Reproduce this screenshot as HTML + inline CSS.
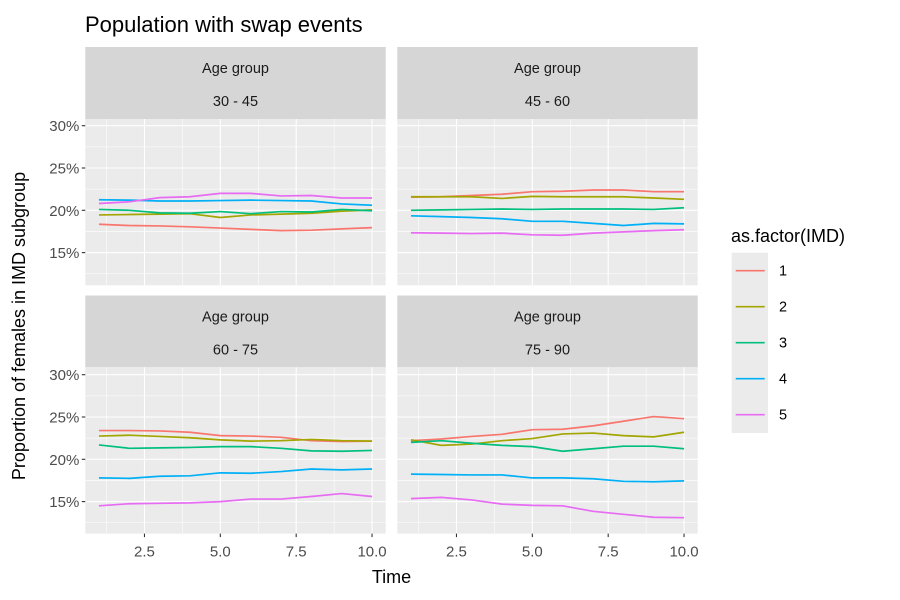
<!DOCTYPE html>
<html><head><meta charset="utf-8"><style>body{margin:0;background:#fff}svg{display:block;font-family:"Liberation Sans",Arial,sans-serif}</style></head>
<body>
<svg id="c" width="900" height="600" viewBox="0 0 900 600"></svg>
<script>
const xValues=[1,2,3,4,5,6,7,8,9,10];
const yTicks=[15,20,25,30];
const yTickLabels=["15%","20%","25%","30%"];
const xTicks=[2.5,5,7.5,10];
const xTickLabels=["2.5","5.0","7.5","10.0"];
const groupLabels=["1","2","3","4","5"];
const panelTitles=["30 - 45","45 - 60","60 - 75","75 - 90"];
const colors=["#F8766D","#A3A500","#00BF7D","#00B0F6","#E76BF3"];
// panel 30-45
const p1s1=[18.35,18.2,18.15,18.05,17.9,17.75,17.6,17.65,17.8,17.95];
const p1s2=[19.45,19.5,19.55,19.6,19.15,19.45,19.55,19.65,19.9,20.05];
const p1s3=[20.1,20.0,19.7,19.65,19.85,19.6,19.85,19.8,20.1,19.95];
const p1s4=[21.25,21.2,21.1,21.1,21.15,21.2,21.15,21.1,20.75,20.6];
const p1s5=[20.8,21.0,21.5,21.6,22.0,22.0,21.7,21.75,21.45,21.45];
// panel 45-60
const p2s1=[21.55,21.6,21.75,21.9,22.2,22.25,22.4,22.4,22.2,22.2];
const p2s2=[21.6,21.6,21.6,21.4,21.65,21.6,21.6,21.6,21.45,21.3];
const p2s3=[20.0,20.05,20.1,20.15,20.1,20.15,20.15,20.15,20.1,20.3];
const p2s4=[19.35,19.25,19.15,19.0,18.7,18.7,18.45,18.2,18.45,18.4];
const p2s5=[17.35,17.3,17.25,17.3,17.1,17.05,17.3,17.45,17.6,17.7];
// panel 60-75
const p3s1=[23.4,23.4,23.35,23.2,22.8,22.75,22.6,22.2,22.1,22.15];
const p3s2=[22.75,22.85,22.7,22.55,22.3,22.15,22.2,22.35,22.2,22.15];
const p3s3=[21.7,21.3,21.35,21.4,21.5,21.5,21.3,21.0,20.95,21.05];
const p3s4=[17.8,17.75,18.0,18.05,18.4,18.35,18.55,18.85,18.75,18.85];
const p3s5=[14.5,14.75,14.8,14.85,15.0,15.3,15.3,15.6,15.95,15.6];
// panel 75-90
const p4s1=[22.2,22.4,22.7,22.95,23.5,23.55,23.95,24.5,25.05,24.8];
const p4s2=[22.3,21.65,21.8,22.2,22.45,23.0,23.1,22.8,22.65,23.2];
const p4s3=[22.0,22.2,21.9,21.65,21.5,20.95,21.25,21.55,21.55,21.25];
const p4s4=[18.25,18.2,18.15,18.15,17.8,17.8,17.7,17.4,17.35,17.45];
const p4s5=[15.35,15.5,15.2,14.7,14.55,14.5,13.85,13.5,13.15,13.1];
const panelSeries=[[p1s1,p1s2,p1s3,p1s4,p1s5],[p2s1,p2s2,p2s3,p2s4,p2s5],[p3s1,p3s2,p3s3,p3s4,p3s5],[p4s1,p4s2,p4s3,p4s4,p4s5]];

const NS="http://www.w3.org/2000/svg";
const svg=document.getElementById('c');
function mk(tag,attrs,parent,text){const e=document.createElementNS(NS,tag);for(const k in attrs)e.setAttribute(k,attrs[k]);if(text!==undefined)e.textContent=text;(parent||svg).appendChild(e);return e;}
const panelW=300.4, xMin=0.55, xMax=10.45;
const colX=[85.3,397.3];
const rowPanelTop=[119,367.3];
const rowStripTop=[47,295.5];
const yScaleK=8.46;
const y20=[210.3,459.3];
function sx(c,v){return colX[c]+(v-xMin)/(xMax-xMin)*panelW;}
function sy(r,v){return y20[r]-(v-20)*yScaleK;}
const panelH=166.3;

let t=mk('text',{x:85,y:32,'font-size':'22','fill':'#000'},svg,'Population with swap events');



for(let p=0;p<4;p++){
  const c=p%2, r=Math.floor(p/2);
  const g=mk('g',{});
  
  
  const st=mk('rect',{x:colX[c],y:rowStripTop[r],width:panelW,height:rowPanelTop[r]-rowStripTop[r],fill:'#d6d6d6'},g);
  
  
  const cx=colX[c]+panelW/2;
  let s1=mk('text',{x:cx,y:rowStripTop[r]+26,'text-anchor':'middle','font-size':'14.5',fill:'#1a1a1a'},g,'Age group');
  
  
  let s2=mk('text',{x:cx,y:rowStripTop[r]+59,'text-anchor':'middle','font-size':'14.5',fill:'#1a1a1a'},g,panelTitles[p]);
  
  
  const bg=mk('rect',{x:colX[c],y:rowPanelTop[r],width:panelW,height:panelH,fill:'#ebebeb'},g);
  
  
  for(let i=0;i<yTicks.length+1;i++){
    const v=12.5+5*i; const y=sy(r,v);
    if(y>rowPanelTop[r]&&y<rowPanelTop[r]+panelH){const l=mk('line',{x1:colX[c],x2:colX[c]+panelW,y1:y,y2:y,stroke:'#fff','stroke-width':0.55},g);}
  }
  for(let i=0;i<xTicks.length+1;i++){
    const v=1.25+2.5*i; const x=sx(c,v);
    if(x>colX[c]&&x<colX[c]+panelW){const l=mk('line',{x1:x,x2:x,y1:rowPanelTop[r],y2:rowPanelTop[r]+panelH,stroke:'#fff','stroke-width':0.55},g);}
  }
  yTicks.forEach((v,i)=>{const y=sy(r,v);
    const l=mk('line',{x1:colX[c],x2:colX[c]+panelW,y1:y,y2:y,stroke:'#fff','stroke-width':1.1},g);
    
    
    if(c===0){
      const tk=mk('line',{x1:colX[0]-3.5,x2:colX[0],y1:y,y2:y,stroke:'#333','stroke-width':1.1},g);
      
      
      const lb=mk('text',{x:colX[0]-6,y:y+5.5,'text-anchor':'end','font-size':'15',fill:'#4d4d4d'},g,yTickLabels[i]);
      
      
    }
  });
  xTicks.forEach((v,i)=>{const x=sx(c,v);
    const l=mk('line',{x1:x,x2:x,y1:rowPanelTop[r],y2:rowPanelTop[r]+panelH,stroke:'#fff','stroke-width':1.1},g);
    
    
    if(r===1){
      const yb=rowPanelTop[1]+panelH;
      const tk=mk('line',{x1:x,x2:x,y1:yb,y2:yb+3.5,stroke:'#333','stroke-width':1.1},g);
      
      
      const lb=mk('text',{x:x,y:yb+23,'text-anchor':'middle','font-size':'15',fill:'#4d4d4d'},g,xTickLabels[i]);
      
      
    }
  });
  panelSeries[p].forEach((vals,si)=>{
    const d=vals.map((v,i)=>(i?'L':'M')+sx(c,xValues[i]).toFixed(2)+','+sy(r,v).toFixed(2)).join('');
    const pa=mk('path',{d:d,fill:'none',stroke:colors[si],'stroke-width':1.7},g);
    
    
  });
}
let yt=mk('text',{x:0,y:0,transform:'translate(25,326) rotate(-90)','text-anchor':'middle','font-size':'18',fill:'#000'},svg,'Proportion of females in IMD subgroup');


let xt=mk('text',{x:391.5,y:583,'text-anchor':'middle','font-size':'18',fill:'#000'},svg,'Time');


const lg=mk('g',{});


let lt=mk('text',{x:731,y:242,'font-size':'18',fill:'#000'},lg,'as.factor(IMD)');


let lbg=mk('rect',{x:731.7,y:252.7,width:36.3,height:180.3,fill:'#ebebeb'},lg);


groupLabels.forEach((g,i)=>{
  const y=270.7+36*i;
  const ln=mk('line',{x1:735.7,x2:764.7,y1:y,y2:y,stroke:colors[i],'stroke-width':1.7},lg);
  
  
  const tx=mk('text',{x:779,y:y+5,'font-size':'14.5',fill:'#000'},lg,g);
  
  
});
</script>
</body></html>
